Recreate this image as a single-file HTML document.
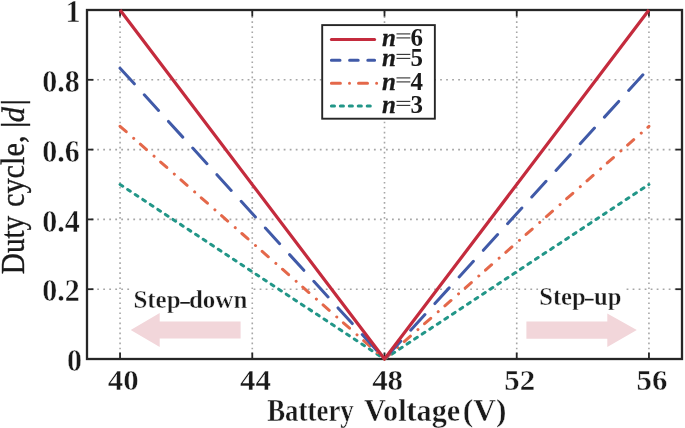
<!DOCTYPE html><html><head><meta charset="utf-8"><style>html,body{margin:0;padding:0;background:#fff;}body{width:685px;height:428px;overflow:hidden;}svg{display:block;filter:blur(0.45px);}text{font-family:"Liberation Serif",serif;}.e{stroke:#fff;stroke-width:0.4px;}</style></head><body>
<svg width="685" height="428" viewBox="0 0 685 428">
<line x1="120.06" y1="11.3" x2="120.06" y2="358.00" stroke="#a6a6a6" stroke-width="1.6" stroke-dasharray="1.6 3.42"/>
<line x1="252.28" y1="11.3" x2="252.28" y2="358.00" stroke="#a6a6a6" stroke-width="1.6" stroke-dasharray="1.6 3.42"/>
<line x1="384.50" y1="11.3" x2="384.50" y2="358.00" stroke="#a6a6a6" stroke-width="1.6" stroke-dasharray="1.6 3.42"/>
<line x1="516.72" y1="11.3" x2="516.72" y2="358.00" stroke="#a6a6a6" stroke-width="1.6" stroke-dasharray="1.6 3.42"/>
<line x1="648.94" y1="11.3" x2="648.94" y2="358.00" stroke="#a6a6a6" stroke-width="1.6" stroke-dasharray="1.6 3.42"/>
<line x1="91.18" y1="289.20" x2="681.00" y2="289.20" stroke="#a6a6a6" stroke-width="1.6" stroke-dasharray="1.8 4.216"/>
<line x1="91.18" y1="219.40" x2="681.00" y2="219.40" stroke="#a6a6a6" stroke-width="1.6" stroke-dasharray="1.8 4.216"/>
<line x1="91.18" y1="149.60" x2="681.00" y2="149.60" stroke="#a6a6a6" stroke-width="1.6" stroke-dasharray="1.8 4.216"/>
<line x1="91.18" y1="79.80" x2="681.00" y2="79.80" stroke="#a6a6a6" stroke-width="1.6" stroke-dasharray="1.8 4.216"/>
<line x1="120.06" y1="359.0" x2="120.06" y2="352.5" stroke="#262626" stroke-width="1.8"/>
<line x1="120.06" y1="10.0" x2="120.06" y2="16.5" stroke="#262626" stroke-width="1.8"/>
<line x1="252.28" y1="359.0" x2="252.28" y2="352.5" stroke="#262626" stroke-width="1.8"/>
<line x1="252.28" y1="10.0" x2="252.28" y2="16.5" stroke="#262626" stroke-width="1.8"/>
<line x1="384.50" y1="359.0" x2="384.50" y2="352.5" stroke="#262626" stroke-width="1.8"/>
<line x1="384.50" y1="10.0" x2="384.50" y2="16.5" stroke="#262626" stroke-width="1.8"/>
<line x1="516.72" y1="359.0" x2="516.72" y2="352.5" stroke="#262626" stroke-width="1.8"/>
<line x1="516.72" y1="10.0" x2="516.72" y2="16.5" stroke="#262626" stroke-width="1.8"/>
<line x1="648.94" y1="359.0" x2="648.94" y2="352.5" stroke="#262626" stroke-width="1.8"/>
<line x1="648.94" y1="10.0" x2="648.94" y2="16.5" stroke="#262626" stroke-width="1.8"/>
<line x1="87.0" y1="359.00" x2="93.5" y2="359.00" stroke="#262626" stroke-width="1.8"/>
<line x1="682.0" y1="359.00" x2="675.5" y2="359.00" stroke="#262626" stroke-width="1.8"/>
<line x1="87.0" y1="289.20" x2="93.5" y2="289.20" stroke="#262626" stroke-width="1.8"/>
<line x1="682.0" y1="289.20" x2="675.5" y2="289.20" stroke="#262626" stroke-width="1.8"/>
<line x1="87.0" y1="219.40" x2="93.5" y2="219.40" stroke="#262626" stroke-width="1.8"/>
<line x1="682.0" y1="219.40" x2="675.5" y2="219.40" stroke="#262626" stroke-width="1.8"/>
<line x1="87.0" y1="149.60" x2="93.5" y2="149.60" stroke="#262626" stroke-width="1.8"/>
<line x1="682.0" y1="149.60" x2="675.5" y2="149.60" stroke="#262626" stroke-width="1.8"/>
<line x1="87.0" y1="79.80" x2="93.5" y2="79.80" stroke="#262626" stroke-width="1.8"/>
<line x1="682.0" y1="79.80" x2="675.5" y2="79.80" stroke="#262626" stroke-width="1.8"/>
<line x1="87.0" y1="10.00" x2="93.5" y2="10.00" stroke="#262626" stroke-width="1.8"/>
<line x1="682.0" y1="10.00" x2="675.5" y2="10.00" stroke="#262626" stroke-width="1.8"/>
<rect x="87.0" y="10.0" width="595.0" height="349.0" fill="none" stroke="#262626" stroke-width="2.3"/>
<path d="M120.06,184.50 L384.50,359.00 L648.94,184.50" fill="none" stroke="#229688" stroke-width="3" stroke-linecap="round" stroke-dasharray="3.2 5.85"/>
<path d="M120.06,126.33 L384.50,359.00 L648.94,126.33" fill="none" stroke="#e4684a" stroke-width="3" stroke-linecap="round" stroke-dasharray="8.2 10.0 0.01 8.83"/>
<path d="M120.06,68.17 L384.50,359.00 L648.94,68.17" fill="none" stroke="#405aa8" stroke-width="3" stroke-linecap="round" stroke-dasharray="21.2 14.8"/>
<path d="M120.06,10.00 L384.50,359.00 L648.94,10.00" fill="none" stroke="#c42b3d" stroke-width="3.2" stroke-linejoin="round"/>
<rect x="130" y="286" width="121" height="24" fill="#fff"/>
<rect x="538.2" y="286" width="86.8" height="24" fill="#fff"/>
<text class="e" x="133.4" y="308.3" font-size="25" font-weight="bold" fill="#1a1a1a">Step</text>
<text class="e" x="188.98" y="308.3" font-size="25" font-weight="bold" fill="#1a1a1a">down</text>
<rect x="180.3" y="302.0" width="9.5" height="1.7" fill="#1a1a1a"/>
<text class="e" x="539.2" y="305.0" font-size="25" font-weight="bold" fill="#1a1a1a" textLength="46.57" lengthAdjust="spacingAndGlyphs">Step</text>
<text class="e" x="593.97" y="305.0" font-size="25" font-weight="bold" fill="#1a1a1a" textLength="27.41" lengthAdjust="spacingAndGlyphs">up</text>
<rect x="584.9" y="298.8" width="8.7" height="1.7" fill="#1a1a1a"/>
<polygon points="130.7,330.0 159.7,313.1 159.7,321.5 240.6,321.5 240.6,338.4 159.7,338.4 159.7,347.0" fill="#f2d6da"/>
<polygon points="636.8,330.0 607.3,313.4 607.3,321.4 526.4,321.4 526.4,338.7 607.3,338.7 607.3,347.0" fill="#f2d6da"/>
<rect x="322.2" y="25.1" width="112.65" height="93.60" fill="#fff" stroke="#262626" stroke-width="1.9"/>
<line x1="331.4" y1="39.6" x2="374.6" y2="39.6" stroke="#c42b3d" stroke-width="3" stroke-linecap="round"/>
<line x1="331.4" y1="60.3" x2="374.6" y2="60.3" stroke="#405aa8" stroke-width="3" stroke-linecap="round" stroke-dasharray="8.6 9.6"/>
<line x1="331.4" y1="83.3" x2="377.2" y2="83.3" stroke="#e4684a" stroke-width="3" stroke-linecap="round" stroke-dasharray="9 9.1 0.01 9"/>
<line x1="331.4" y1="106.0" x2="370.5" y2="106.0" stroke="#229688" stroke-width="3" stroke-linecap="round" stroke-dasharray="3.1 5.85"/>
<text x="382" y="45.9" font-size="25" font-weight="bold" font-style="italic" fill="#1a1a1a" stroke="#1a1a1a" stroke-width="0.3">n</text>
<line x1="396.5" y1="33.90" x2="410.3" y2="33.90" stroke="#3a3a3a" stroke-width="1.15"/>
<line x1="396.5" y1="37.90" x2="410.3" y2="37.90" stroke="#3a3a3a" stroke-width="1.15"/>
<text x="410.4" y="45.9" font-size="25" font-weight="bold" fill="#1a1a1a">6</text>
<text x="382" y="66.4" font-size="25" font-weight="bold" font-style="italic" fill="#1a1a1a" stroke="#1a1a1a" stroke-width="0.3">n</text>
<line x1="396.5" y1="54.40" x2="410.3" y2="54.40" stroke="#3a3a3a" stroke-width="1.15"/>
<line x1="396.5" y1="58.40" x2="410.3" y2="58.40" stroke="#3a3a3a" stroke-width="1.15"/>
<text x="410.4" y="66.4" font-size="25" font-weight="bold" fill="#1a1a1a">5</text>
<text x="382" y="89.9" font-size="25" font-weight="bold" font-style="italic" fill="#1a1a1a" stroke="#1a1a1a" stroke-width="0.3">n</text>
<line x1="396.5" y1="77.90" x2="410.3" y2="77.90" stroke="#3a3a3a" stroke-width="1.15"/>
<line x1="396.5" y1="81.90" x2="410.3" y2="81.90" stroke="#3a3a3a" stroke-width="1.15"/>
<text x="410.4" y="89.9" font-size="25" font-weight="bold" fill="#1a1a1a">4</text>
<text x="382" y="113.4" font-size="25" font-weight="bold" font-style="italic" fill="#1a1a1a" stroke="#1a1a1a" stroke-width="0.3">n</text>
<line x1="396.5" y1="101.40" x2="410.3" y2="101.40" stroke="#3a3a3a" stroke-width="1.15"/>
<line x1="396.5" y1="105.40" x2="410.3" y2="105.40" stroke="#3a3a3a" stroke-width="1.15"/>
<text x="410.4" y="113.4" font-size="25" font-weight="bold" fill="#1a1a1a">3</text>
<text class="e" transform="translate(82.10,371.00) scale(1,1.075)" font-size="30" font-weight="bold" text-anchor="end" fill="#1a1a1a">0</text>
<text class="e" transform="translate(79.80,301.20) scale(1,1.075)" font-size="30" font-weight="bold" text-anchor="end" fill="#1a1a1a">0.2</text>
<text class="e" transform="translate(79.80,231.90) scale(1,1.075)" font-size="30" font-weight="bold" text-anchor="end" fill="#1a1a1a">0.4</text>
<text class="e" transform="translate(79.80,162.10) scale(1,1.075)" font-size="30" font-weight="bold" text-anchor="end" fill="#1a1a1a">0.6</text>
<text class="e" transform="translate(79.80,92.30) scale(1,1.075)" font-size="30" font-weight="bold" text-anchor="end" fill="#1a1a1a">0.8</text>
<text class="e" transform="translate(80.60,21.80) scale(1,1.075)" font-size="30" font-weight="bold" text-anchor="end" fill="#1a1a1a">1</text>
<text class="e" transform="translate(123.16,389.8) scale(1.03,1.01)" font-size="30" font-weight="bold" text-anchor="middle" fill="#1a1a1a">40</text>
<text class="e" transform="translate(255.38,389.8) scale(1.03,1.01)" font-size="30" font-weight="bold" text-anchor="middle" fill="#1a1a1a">44</text>
<text class="e" transform="translate(387.60,389.8) scale(1.03,1.01)" font-size="30" font-weight="bold" text-anchor="middle" fill="#1a1a1a">48</text>
<text class="e" transform="translate(519.82,389.8) scale(1.03,1.01)" font-size="30" font-weight="bold" text-anchor="middle" fill="#1a1a1a">52</text>
<text class="e" transform="translate(652.04,389.8) scale(1.03,1.01)" font-size="30" font-weight="bold" text-anchor="middle" fill="#1a1a1a">56</text>
<text class="e" transform="translate(267.14,420.6) scale(1,1.065)" font-size="29.5" font-weight="bold" fill="#1a1a1a" textLength="86.65" lengthAdjust="spacingAndGlyphs">Battery</text>
<text class="e" transform="translate(363.97,420.6) scale(1,1.065)" font-size="29.5" font-weight="bold" fill="#1a1a1a" textLength="96.3" lengthAdjust="spacingAndGlyphs">Voltage</text>
<text class="e" transform="translate(462.82,420.6) scale(1,1.065)" font-size="29.5" font-weight="bold" fill="#1a1a1a" textLength="43.5" lengthAdjust="spacingAndGlyphs">(V)</text>
<text transform="translate(24,274.2) rotate(-90) scale(1,1.09)" font-size="30.3" fill="#1a1a1a" stroke="#1a1a1a" stroke-width="0.35" textLength="58.4" lengthAdjust="spacingAndGlyphs">Duty</text>
<text transform="translate(24,207.0) rotate(-90) scale(1,1.09)" font-size="30.3" fill="#1a1a1a" stroke="#1a1a1a" stroke-width="0.35" textLength="71.5" lengthAdjust="spacingAndGlyphs">cycle,</text>
<text transform="translate(22.7,128.06) rotate(-90)" font-size="32.6" fill="#1a1a1a" stroke="#1a1a1a" stroke-width="0.35">|</text>
<text transform="translate(23.6,122.45) rotate(-90)" font-size="31" font-style="italic" fill="#1a1a1a" stroke="#1a1a1a" stroke-width="0.35">d</text>
<text transform="translate(22.7,105.46) rotate(-90)" font-size="32.6" fill="#1a1a1a" stroke="#1a1a1a" stroke-width="0.35">|</text>
</svg></body></html>
